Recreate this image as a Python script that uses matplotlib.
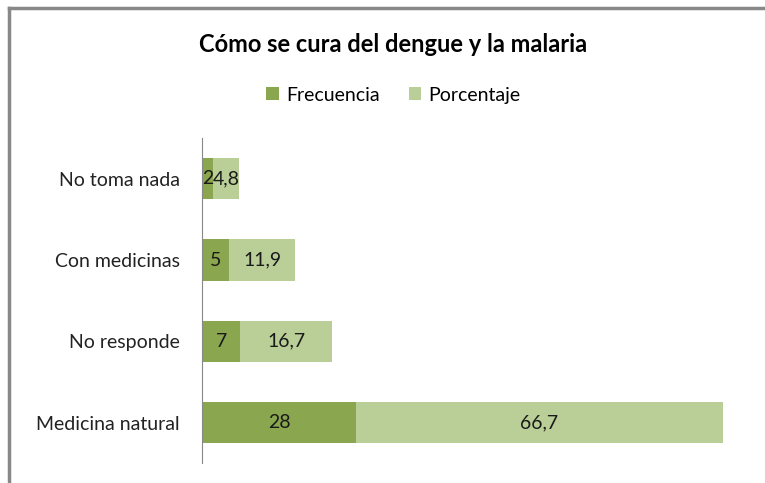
import matplotlib.pyplot as plt
from matplotlib.lines import Line2D

categorias = ['Medicina natural', 'No responde', 'Con medicinas', 'No toma nada']
frecuencia = [28, 7, 5, 2]
porcentaje = [66.7, 16.7, 11.9, 4.8]

color_frec = '#8aa64e'
color_porc = '#b9cf97'


def fmt(v):
    return ('%g' % v).replace('.', ',')


def main():
    plt.rcParams['font.family'] = ['Lato', 'DejaVu Sans']
    fig = plt.figure(figsize=(7.65, 4.83), dpi=100)
    ax = fig.add_axes([0.264, 0.041, 0.719, 0.673])

    y = range(len(categorias))
    b1 = ax.barh(y, frecuencia, height=0.51, color=color_frec, label='Frecuencia')
    b2 = ax.barh(y, porcentaje, left=frecuencia, height=0.51, color=color_porc, label='Porcentaje')

    for rect, v in zip(b1, frecuencia):
        ax.text(rect.get_x() + rect.get_width() / 2, rect.get_y() + rect.get_height() / 2,
                fmt(v), ha='center', va='center', fontsize=14, color='#1a1a1a')
    for rect, v in zip(b2, porcentaje):
        ax.text(rect.get_x() + rect.get_width() / 2, rect.get_y() + rect.get_height() / 2,
                fmt(v), ha='center', va='center', fontsize=14, color='#1a1a1a')

    ax.set_xlim(0, 100)
    ax.set_ylim(-0.5, 3.5)
    ax.set_yticks(list(y))
    ax.set_yticklabels(categorias, fontsize=14, color='#222222')
    ax.tick_params(axis='y', length=0, pad=16)
    ax.set_xticks([])
    for s in ['top', 'right', 'bottom']:
        ax.spines[s].set_visible(False)
    ax.spines['left'].set_color('#888888')

    fig.text(0.514, 0.908, 'Cómo se cura del dengue y la malaria', ha='center', va='center',
             fontsize=17, fontweight='bold')
    fig.legend(handles=[b1, b2], loc='center', bbox_to_anchor=(0.514, 0.803), ncol=2,
               frameon=False, fontsize=14, handlelength=0.65, handleheight=0.65,
               handletextpad=0.35, columnspacing=1.5)

    fig.add_artist(Line2D([0.012, 1.0], [0.983, 0.983], color='#888888', lw=2.5))
    fig.add_artist(Line2D([0.012, 0.012], [0.0, 0.983], color='#888888', lw=2.5))

    fig.savefig('out.png', dpi=100)


if __name__ == "__main__":
    main()
